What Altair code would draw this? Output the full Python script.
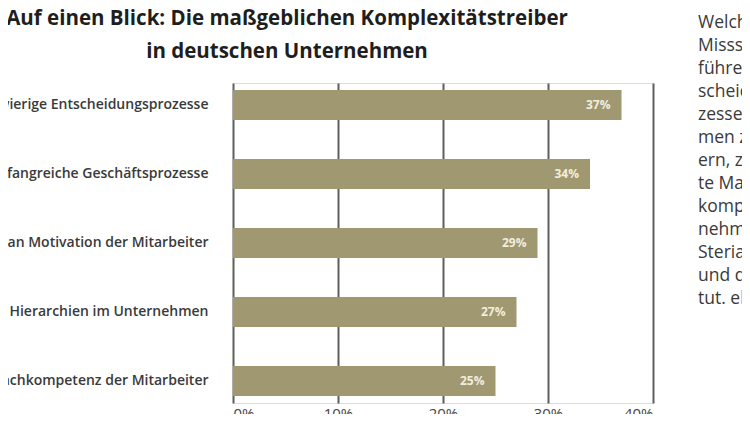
import pandas as pd
import altair as alt

# Survey results: main complexity drivers in German companies
categories = [
    "Langwierige Entscheidungsprozesse",
    "Umfangreiche Geschäftsprozesse",
    "Mangel an Motivation der Mitarbeiter",
    "Starre Hierarchien im Unternehmen",
    "Mangelnde Fachkompetenz der Mitarbeiter",
]
shares = [0.37, 0.34, 0.29, 0.27, 0.25]
value_labels = ["37%", "34%", "29%", "27%", "25%"]
x_ticks = [0, 0.1, 0.2, 0.3, 0.4]

title_lines = [
    "Auf einen Blick: Die maßgeblichen Komplexitätstreiber",
    "in deutschen Unternehmen",
]
# article column next to the chart (cut off at the right edge)
side_text = [
    "Welche", "Missstände", "führen zu", "scheidungs", "zesse in", "men zu",
    "ern, zu", "te Markt", "kompetenz", "nehmen", "Steria", "und des", "tut.  el",
]

df = pd.DataFrame({"cat": categories, "share": shares, "label": value_labels})

BAR = "#A09870"
BG = "#E6E3D3"

y_enc = alt.Y(
    "cat:N", sort=categories, title=None,
    scale=alt.Scale(paddingInner=0.565, paddingOuter=0.1),
    axis=alt.Axis(domain=False, ticks=False, labelPadding=25, labelFontSize=14,
                  labelFont="Open Sans", labelFontWeight=600, labelColor="#3A3A3A",
                  labelLimit=1000, grid=False),
)
x_enc = alt.X(
    "share:Q", title=None,
    scale=alt.Scale(domain=[0, 0.4], nice=False),
    axis=alt.Axis(values=x_ticks, format=".0%", domain=False, ticks=False,
                  labelPadding=3, labelFontSize=15, labelFont="Open Sans",
                  labelColor="#444444", grid=True, gridColor="#5E5E5A", gridWidth=2),
)

base = alt.Chart(df)
bars = base.mark_bar(color=BAR).encode(x=x_enc, y=y_enc)
labels = base.mark_text(align="right", dx=-11, fontSize=12, font="Open Sans",
                        fontWeight="bold", color="#F2EEDD").encode(
    x="share:Q", y=alt.Y("cat:N", sort=categories), text="label:N")

side = alt.Chart(pd.DataFrame({"t": ["\n".join(side_text)]})).mark_text(
    align="left", baseline="alphabetic", fontSize=17.5, font="Open Sans", color="#3A3A3A",
    lineHeight=23, lineBreak="\n").encode(x=alt.value(465), y=alt.value(-55), text="t:N")

head = alt.Chart(pd.DataFrame({"t": ["\n".join(title_lines)]})).mark_text(
    align="center", baseline="alphabetic", fontSize=20.5, font="Open Sans",
    fontWeight="bold", color="#1E1E1E", lineHeight=33, lineBreak="\n").encode(
    x=alt.value(54), y=alt.value(-58), text="t:N")

chart = alt.layer(bars, labels, side, head).properties(
    width=420, height=320,
    padding={"left": 225, "right": 89, "top": 75, "bottom": 11},
    autosize=alt.AutoSizeParams(type="none"),
).configure_view(fill=BG, stroke=None).configure(background="white")

chart.save("out.html", embed_options={"renderer": "svg", "actions": False})
